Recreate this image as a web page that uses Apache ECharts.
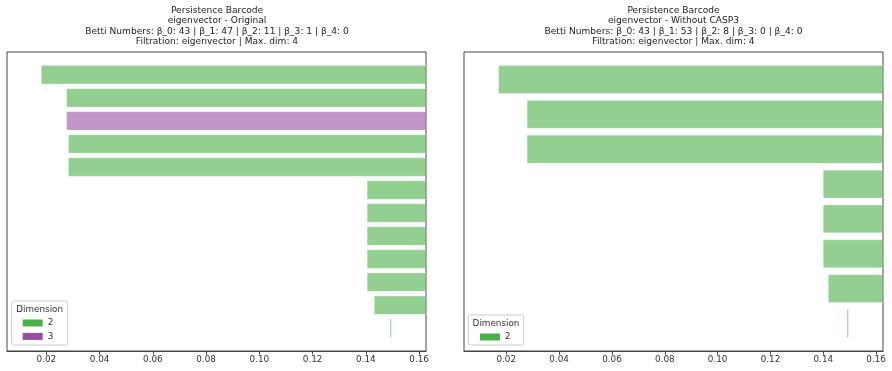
<!DOCTYPE html>
<html>
<head>
<meta charset="utf-8">
<script src="https://cdn.jsdelivr.net/npm/echarts@6/dist/echarts.min.js"></script>
<style>
  html, body { margin: 0; padding: 0; background: #fff; }
  #chart { width: 892px; height: 371px; }
</style>
</head>
<body>
<div id="chart"></div>
<script>
// bars, top to bottom (birth, death, dimension)
const leftBirth = [0.0181, 0.0276, 0.0276, 0.0283, 0.0283, 0.1405, 0.1405, 0.1405, 0.1405, 0.1405, 0.1432, 0.1491]
const leftDeath = [0.1626, 0.1626, 0.1626, 0.1626, 0.1626, 0.1626, 0.1626, 0.1626, 0.1626, 0.1626, 0.1626, 0.1496]
const leftDim   = [2, 2, 3, 2, 2, 2, 2, 2, 2, 2, 2, 2]

const rightBirth = [0.0171, 0.0279, 0.0279, 0.1400, 0.1400, 0.1400, 0.1419, 0.1490]
const rightDeath = [0.1626, 0.1626, 0.1626, 0.1626, 0.1626, 0.1626, 0.1626, 0.1495]
const rightDim   = [2, 2, 2, 2, 2, 2, 2, 2]

const xTicks = [0.02, 0.04, 0.06, 0.08, 0.10, 0.12, 0.14, 0.16]

const titleLeft = 'Persistence Barcode\neigenvector - Original\nBetti Numbers: β_0: 43 | β_1: 47 | β_2: 11 | β_3: 1 | β_4: 0\nFiltration: eigenvector | Max. dim: 4'
const titleRight = 'Persistence Barcode\neigenvector - Without CASP3\nBetti Numbers: β_0: 43 | β_1: 53 | β_2: 8 | β_3: 0 | β_4: 0\nFiltration: eigenvector | Max. dim: 4'

const dimColors = { 2: '#4daf4a', 3: '#984ea3' }
const FONT = 'DejaVu Sans'

const chart = echarts.init(document.getElementById('chart'))

const renderBar = (params, api) => {
  const row = api.value(2)
  const p0 = api.coord([api.value(0), row])
  const p1 = api.coord([api.value(1), row])
  const h = api.size([0, 0.8])[1]
  const shape = echarts.graphic.clipRectByRect({
    x: p0[0],
    y: p0[1] - h / 2,
    width: Math.max(p1[0] - p0[0], 1.2),
    height: h
  }, params.coordSys)
  return shape && {
    type: 'rect',
    shape,
    style: { fill: api.visual('color'), opacity: 0.6, stroke: 'rgba(255,255,255,0.7)', lineWidth: 0.6 }
  }
}

const makeSeries = (birth, death, dims, idx) => {
  const out = []
  Array.from(new Set(dims)).sort().forEach(d => {
    out.push({
      name: String(d),
      type: 'custom',
      xAxisIndex: idx,
      yAxisIndex: idx,
      itemStyle: { color: dimColors[d] },
      renderItem: renderBar,
      encode: { x: [0, 1], y: 2 },
      data: birth.map((b, i) => [b, death[i], i, dims[i]]).filter(r => r[3] === d)
    })
  })
  return out
}

const xAxisBase = (idx) => ({
  type: 'value',
  gridIndex: idx,
  position: 'bottom',
  min: idx === 0 ? 0.0052 : 0.0040,
  max: 0.1626,
  splitLine: { show: false },
  axisLine: { show: true, onZero: false, lineStyle: { color: '#444', width: 1 } },
  axisTick: { show: true, length: 3.5, customValues: xTicks, lineStyle: { color: '#444' } },
  axisLabel: {
    customValues: xTicks,
    formatter: v => v.toFixed(2),
    fontFamily: FONT,
    fontSize: 8.8,
    color: '#333',
    margin: 4
  }
})

const yAxisBase = (idx, n) => ({
  type: 'value',
  gridIndex: idx,
  inverse: true,
  min: -0.4 - 0.05 * (n - 0.2),
  max: n - 1 + 0.4 + 0.05 * (n - 0.2),
  show: false
})

const titleStyle = {
  fontFamily: FONT,
  fontSize: 9.1,
  fontWeight: 'normal',
  color: '#222',
  lineHeight: 10.6
}

const legendCommon = {
  orient: 'vertical',
  icon: 'rect',
  itemWidth: 20,
  itemHeight: 7,
  itemGap: 3.4,
  padding: 0,
  z: 6,
  textStyle: { fontFamily: FONT, fontSize: 8.8, color: '#333', lineHeight: 10 }
}

chart.setOption({
  animation: false,
  title: [
    { text: titleLeft, left: 217, top: 5, textAlign: 'center', padding: 0, textStyle: titleStyle },
    { text: titleRight, left: 673.5, top: 5, textAlign: 'center', padding: 0, textStyle: titleStyle }
  ],
  grid: [
    { left: 7, right: 466, top: 52, bottom: 20, show: true, borderColor: '#444', borderWidth: 1 },
    { left: 464, right: 9, top: 52, bottom: 20, show: true, borderColor: '#444', borderWidth: 1 }
  ],
  xAxis: [xAxisBase(0), xAxisBase(1)],
  yAxis: [yAxisBase(0, leftBirth.length), yAxisBase(1, rightBirth.length)],
  legend: [
    Object.assign({ data: ['2', '3'], left: 22.7, top: 318 }, legendCommon),
    Object.assign({ data: ['2'], left: 480, top: 332 }, legendCommon)
  ],
  graphic: [
    { type: 'rect', z: 5, shape: { x: 11.7, y: 301, width: 56, height: 44, r: 2 },
      style: { fill: 'rgba(255,255,255,0.8)', stroke: '#ccc', lineWidth: 1 } },
    { type: 'text', z: 7, x: 39.7, y: 309.5,
      style: { text: 'Dimension', fontFamily: FONT, fontSize: 8.8, fill: '#333', textAlign: 'center', textVerticalAlign: 'middle' } },
    { type: 'rect', z: 5, shape: { x: 468.3, y: 315, width: 55.4, height: 30, r: 2 },
      style: { fill: 'rgba(255,255,255,0.8)', stroke: '#ccc', lineWidth: 1 } },
    { type: 'text', z: 7, x: 496, y: 323.5,
      style: { text: 'Dimension', fontFamily: FONT, fontSize: 8.8, fill: '#333', textAlign: 'center', textVerticalAlign: 'middle' } }
  ],
  series: [
    ...makeSeries(leftBirth, leftDeath, leftDim, 0),
    ...makeSeries(rightBirth, rightDeath, rightDim, 1)
  ]
})

window.addEventListener('resize', () => chart.resize())
</script>
</body>
</html>
